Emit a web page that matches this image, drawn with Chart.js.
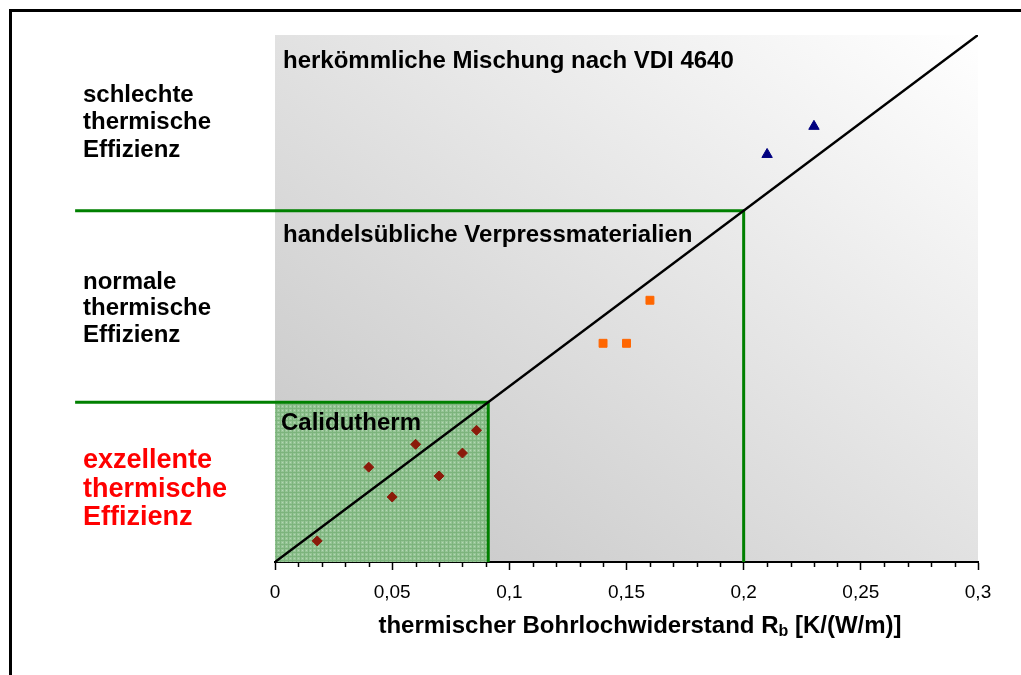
<!DOCTYPE html>
<html>
<head>
<meta charset="utf-8">
<script src="https://cdn.jsdelivr.net/npm/chart.js@4.4.1/dist/chart.umd.min.js"></script>
<style>
  body { margin: 0; background: #fff; }
</style>
</head>
<body>
<canvas id="myChart" width="1021" height="675"></canvas>
<script>
// Messpunkte (Rb, Effizienz-Achse)
var caliX = [0.018, 0.040, 0.050, 0.060, 0.070, 0.080, 0.086];
var caliY = [0.012, 0.054, 0.037, 0.067, 0.049, 0.062, 0.075];
var handelX = [0.14, 0.15, 0.16];
var handelY = [0.1245, 0.1245, 0.149];
var vdiX = [0.21, 0.23];
var vdiY = [0.232, 0.248];

// Bezugsgerade und Grenzen
var diagX = [0, 0.3];
var diagY = [0, 0.3];
var limitExz = 0.091;
var limitNorm = 0.2;
var limitLeft = -0.0853;

var xTickLabels = ['0', '0,05', '0,1', '0,15', '0,2', '0,25', '0,3'];
var zoneTop = ['schlechte', 'thermische', 'Effizienz'];
var zoneMid = ['normale', 'thermische', 'Effizienz'];
var zoneLow = ['exzellente', 'thermische', 'Effizienz'];

function pts(xs, ys) {
    var out = [];
    for (var i = 0; i < xs.length; i++) out.push({ x: xs[i], y: ys[i] });
    return out;
}

var FONT = '"Liberation Sans", Arial, sans-serif';

var canvas = document.getElementById('myChart');
var ctx0 = canvas.getContext('2d');

// gepunktetes Gruenmuster fuer Calidutherm
var pc = document.createElement('canvas');
pc.width = 4; pc.height = 4;
var p = pc.getContext('2d');
p.fillStyle = '#96c596'; p.fillRect(0, 0, 4, 4);
p.fillStyle = '#7db47d'; p.fillRect(0, 0, 4, 1); p.fillRect(0, 0, 1, 4);
p.fillStyle = '#b4d8b4'; p.fillRect(2, 2, 1, 1);
var greenPattern = ctx0.createPattern(pc, 'repeat');

var decor = {
    id: 'decor',
    beforeDraw: function(chart) {
        var c = chart.ctx, a = chart.chartArea;
        c.save();
        // Rahmen
        c.strokeStyle = '#000';
        c.lineWidth = 3;
        c.beginPath();
        c.moveTo(10.5, 675); c.lineTo(10.5, 10.5); c.lineTo(1021, 10.5);
        c.stroke();
        // Hintergrundverlauf (unten links dunkel, oben rechts weiss)
        var w = a.right - a.left, h = a.bottom - a.top;
        var cx = a.left + w / 2, cy = a.top + h / 2;
        var k = w * h / (w * w + h * h);
        var g = c.createLinearGradient(cx - k * h, cy + k * w, cx + k * h, cy - k * w);
        g.addColorStop(0, '#c4c4c4');
        g.addColorStop(1, '#ffffff');
        c.fillStyle = g;
        c.fillRect(a.left, a.top, w, h);
        c.restore();
    },
    afterDraw: function(chart) {
        var c = chart.ctx, a = chart.chartArea;
        var xs = chart.scales.x, ys = chart.scales.y;
        c.save();
        // kleine Teilstriche
        c.strokeStyle = '#000';
        c.lineWidth = 1.5;
        for (var i = 0; i <= 30; i++) {
            if (i % 5 === 0) continue;
            var px = Math.round(xs.getPixelForValue(i / 100)) + 0.5;
            c.beginPath();
            c.moveTo(px, a.bottom); c.lineTo(px, a.bottom + 5);
            c.stroke();
        }
        c.textBaseline = 'middle';
        c.textAlign = 'left';
        c.fillStyle = '#000';
        c.font = 'bold 24px ' + FONT;
        c.fillText('herkömmliche Mischung nach VDI 4640', a.left + 8, a.top + 26);
        c.fillText('handelsübliche Verpressmaterialien', a.left + 8, ys.getPixelForValue(limitNorm) + 25);
        c.fillText('Calidutherm', a.left + 6, ys.getPixelForValue(limitExz) + 21);
        zoneTop.forEach(function(t, i) { c.fillText(t, 83, 95 + i * 27.5); });
        zoneMid.forEach(function(t, i) { c.fillText(t, 83, 282 + i * 26.5); });
        c.fillStyle = '#ff0000';
        c.font = 'bold 27px ' + FONT;
        zoneLow.forEach(function(t, i) { c.fillText(t, 83, 461 + i * 28.5); });
        // Achsentitel mit Index
        c.fillStyle = '#000';
        var t1 = 'thermischer Bohrlochwiderstand R', t2 = 'b', t3 = ' [K/(W/m)]';
        c.font = 'bold 24px ' + FONT;
        var w1 = c.measureText(t1).width, w3 = c.measureText(t3).width;
        c.font = 'bold 16px ' + FONT;
        var w2 = c.measureText(t2).width;
        var x0 = 640 - (w1 + w2 + w3) / 2, y0 = 626;
        c.font = 'bold 24px ' + FONT;
        c.fillText(t1, x0, y0);
        c.font = 'bold 16px ' + FONT;
        c.fillText(t2, x0 + w1, y0 + 6);
        c.font = 'bold 24px ' + FONT;
        c.fillText(t3, x0 + w1 + w2, y0);
        c.restore();
    }
};

new Chart(canvas, {
    type: 'line',
    data: {
        datasets: [{
            label: 'Calidutherm Feld',
            data: [{ x: 0, y: limitExz }, { x: limitExz, y: limitExz }],
            borderWidth: 0,
            pointRadius: 0,
            backgroundColor: greenPattern,
            fill: 'origin',
            order: 10
        }, {
            label: 'Grenze normal',
            data: [{ x: limitLeft, y: limitNorm }, { x: limitNorm, y: limitNorm }, { x: limitNorm, y: 0 }],
            borderColor: '#008000',
            borderWidth: 3,
            pointRadius: 0,
            fill: false,
            clip: false,
            order: 6
        }, {
            label: 'Grenze exzellent',
            data: [{ x: limitLeft, y: limitExz }, { x: limitExz, y: limitExz }, { x: limitExz, y: 0 }],
            borderColor: '#008000',
            borderWidth: 3,
            pointRadius: 0,
            fill: false,
            clip: false,
            order: 6
        }, {
            label: 'Gerade',
            data: pts(diagX, diagY),
            borderColor: '#000',
            borderWidth: 2.5,
            pointRadius: 0,
            fill: false,
            order: 4
        }, {
            label: 'Calidutherm',
            data: pts(caliX, caliY),
            showLine: false,
            pointStyle: 'rectRot',
            pointRadius: 5,
            backgroundColor: '#8b1a0a',
            borderColor: '#8b1a0a',
            order: 1
        }, {
            label: 'handelsüblich',
            data: pts(handelX, handelY),
            showLine: false,
            pointStyle: 'rect',
            pointRadius: 5.6,
            backgroundColor: '#ff6600',
            borderColor: '#ff6600',
            order: 1
        }, {
            label: 'VDI 4640',
            data: pts(vdiX, vdiY),
            showLine: false,
            pointStyle: 'triangle',
            pointRadius: 6,
            backgroundColor: '#000080',
            borderColor: '#000080',
            order: 1
        }]
    },
    options: {
        responsive: false,
        animation: false,
        layout: { padding: { left: 275, right: 43, top: 35, bottom: 0 } },
        plugins: { legend: { display: false }, tooltip: { enabled: false } },
        scales: {
            x: {
                type: 'linear',
                min: 0,
                max: 0.3,
                afterFit: function(scale) { scale.height = 113; },
                border: { display: true, color: '#000', width: 2 },
                grid: { display: true, drawOnChartArea: false, drawTicks: true, tickLength: 8, tickColor: '#000', tickWidth: 1.5 },
                ticks: {
                    stepSize: 0.05,
                    padding: 11,
                    color: '#000',
                    font: { family: FONT, size: 19 },
                    callback: function(v, i) { return xTickLabels[i]; }
                }
            },
            y: {
                type: 'linear',
                min: 0,
                max: 0.3,
                display: false
            }
        }
    },
    plugins: [decor]
});
</script>
</body>
</html>
